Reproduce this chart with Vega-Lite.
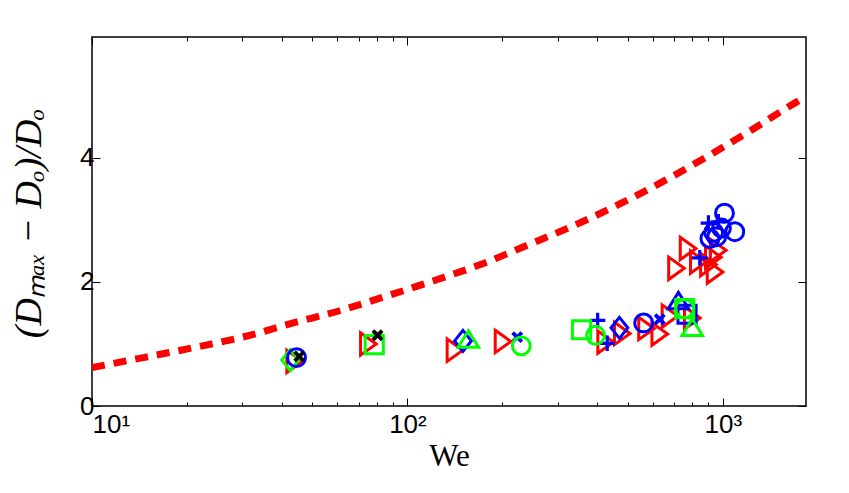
{
  "$schema": "https://vega.github.io/schema/vega-lite/v6.json",
  "width": 714,
  "height": 369,
  "autosize": {"type": "none"},
  "padding": {"left": 92, "top": 37, "right": 43, "bottom": 87},
  "background": "white",
  "config": {
    "view": {"stroke": "#000000", "strokeWidth": 1.5},
    "axis": {
      "domain": false,
      "grid": false,
      "tickColor": "#000000",
      "tickWidth": 1,
      "labelColor": "#000000",
      "labelFont": "Liberation Sans",
      "titleColor": "#000000",
      "titleFontWeight": "normal"
    }
  },
  "layer": [
    {
      "data": {
        "values": [
          {"We": 10, "ratio": 0.62},
          {"We": 14.7, "ratio": 0.785},
          {"We": 21.3, "ratio": 0.947},
          {"We": 30.8, "ratio": 1.125},
          {"We": 43.2, "ratio": 1.336},
          {"We": 61.4, "ratio": 1.541},
          {"We": 87.4, "ratio": 1.785},
          {"We": 124.4, "ratio": 2.039},
          {"We": 173.9, "ratio": 2.298},
          {"We": 243.4, "ratio": 2.606},
          {"We": 340.4, "ratio": 2.919},
          {"We": 476.4, "ratio": 3.27},
          {"We": 655.6, "ratio": 3.637},
          {"We": 902, "ratio": 4.037},
          {"We": 1241, "ratio": 4.459},
          {"We": 1710, "ratio": 4.9},
          {"We": 1835, "ratio": 4.99}
        ]
      },
      "mark": {
        "type": "line",
        "stroke": "#ff0000",
        "strokeWidth": 7,
        "strokeDash": [13, 9],
        "strokeCap": "butt",
        "interpolate": "monotone",
        "clip": true
      },
      "encoding": {
        "x": {
          "field": "We",
          "type": "quantitative",
          "scale": {"type": "log", "domain": [10, 1835], "nice": false},
          "axis": {
            "orient": "bottom",
            "values": [10, 20, 30, 40, 50, 60, 70, 80, 90, 100, 200, 300, 400, 500, 600, 700, 800, 900, 1000],
            "labelExpr": "datum.value === 10 ? '10¹' : datum.value === 100 ? '10²' : datum.value === 1000 ? '10³' : ''",
            "tickSize": {"condition": {"test": "datum.value === 10 || datum.value === 100 || datum.value === 1000", "value": -8}, "value": -4},
            "labelFontSize": 26,
            "labelPadding": 13,
            "labelOverlap": false,
            "title": "We",
            "titleFont": "Liberation Serif",
            "titleFontSize": 31,
            "titlePadding": 0
          }
        },
        "y": {
          "field": "ratio",
          "type": "quantitative",
          "scale": {"domain": [0, 5.95], "nice": false, "zero": true},
          "axis": {
            "orient": "left",
            "values": [0, 2, 4],
            "tickSize": -8,
            "labelFontSize": 26,
            "labelPadding": 6,
            "title": "(Dₘₐₓ − Dₒ)/Dₒ",
            "titleFont": "Liberation Serif",
            "titleFontStyle": "italic",
            "titleFontSize": 38,
            "titlePadding": 31,
            "titleY": 186
          }
        }
      }
    },
    {
      "data": {
        "values": [
          {"We": 43.9, "ratio": 0.72, "marker": "tri-right", "set": "red"},
          {"We": 75.2, "ratio": 1.0, "marker": "tri-right", "set": "red"},
          {"We": 141.5, "ratio": 0.9, "marker": "tri-right", "set": "red"},
          {"We": 201, "ratio": 1.04, "marker": "tri-right", "set": "red"},
          {"We": 425, "ratio": 1.03, "marker": "tri-right", "set": "red"},
          {"We": 480, "ratio": 1.17, "marker": "tri-right", "set": "red"},
          {"We": 573, "ratio": 1.25, "marker": "tri-right", "set": "red"},
          {"We": 631, "ratio": 1.16, "marker": "tri-right", "set": "red"},
          {"We": 680, "ratio": 1.45, "marker": "tri-right", "set": "red"},
          {"We": 800, "ratio": 1.42, "marker": "tri-right", "set": "red"},
          {"We": 713, "ratio": 2.22, "marker": "tri-right", "set": "red"},
          {"We": 776, "ratio": 2.54, "marker": "tri-right", "set": "red"},
          {"We": 836, "ratio": 2.32, "marker": "tri-right", "set": "red"},
          {"We": 900, "ratio": 2.28, "marker": "tri-right", "set": "red"},
          {"We": 933, "ratio": 2.4, "marker": "tri-right", "set": "red"},
          {"We": 945, "ratio": 2.16, "marker": "tri-right", "set": "red"},
          {"We": 967, "ratio": 2.51, "marker": "tri-right", "set": "red"},
          {"We": 42.5, "ratio": 0.74, "marker": "diamond", "set": "green"},
          {"We": 44.5, "ratio": 0.78, "marker": "circle", "set": "blue"},
          {"We": 561, "ratio": 1.34, "marker": "circle", "set": "blue"},
          {"We": 910, "ratio": 2.7, "marker": "circle", "set": "blue"},
          {"We": 956, "ratio": 2.73, "marker": "circle", "set": "blue"},
          {"We": 935, "ratio": 2.8, "marker": "circle", "set": "blue"},
          {"We": 990, "ratio": 2.87, "marker": "circle", "set": "blue"},
          {"We": 1012, "ratio": 3.11, "marker": "circle", "set": "blue"},
          {"We": 1091, "ratio": 2.81, "marker": "circle", "set": "blue"},
          {"We": 401, "ratio": 1.38, "marker": "plus", "set": "blue"},
          {"We": 430, "ratio": 1.01, "marker": "plus", "set": "blue"},
          {"We": 845, "ratio": 2.39, "marker": "plus", "set": "blue"},
          {"We": 900, "ratio": 2.95, "marker": "plus", "set": "blue"},
          {"We": 968, "ratio": 2.97, "marker": "plus", "set": "blue"},
          {"We": 222.9, "ratio": 1.11, "marker": "x", "set": "blue"},
          {"We": 631, "ratio": 1.4, "marker": "x", "set": "blue"},
          {"We": 150, "ratio": 1.05, "marker": "diamond", "set": "blue"},
          {"We": 470, "ratio": 1.26, "marker": "diamond", "set": "blue"},
          {"We": 723, "ratio": 1.7, "marker": "tri-up", "set": "blue"},
          {"We": 770, "ratio": 1.48, "marker": "square", "set": "blue"},
          {"We": 78.5, "ratio": 0.99, "marker": "square", "set": "green"},
          {"We": 356.5, "ratio": 1.23, "marker": "square", "set": "green"},
          {"We": 757, "ratio": 1.57, "marker": "square", "set": "green"},
          {"We": 156, "ratio": 1.08, "marker": "tri-up", "set": "green"},
          {"We": 800, "ratio": 1.27, "marker": "tri-up", "set": "green"},
          {"We": 229.6, "ratio": 0.97, "marker": "circle", "set": "green"},
          {"We": 395, "ratio": 1.14, "marker": "circle", "set": "green"},
          {"We": 757, "ratio": 1.57, "marker": "circle", "set": "green"},
          {"We": 45.4, "ratio": 0.8, "marker": "x", "set": "black"},
          {"We": 80.4, "ratio": 1.14, "marker": "x", "set": "black"}
        ]
      },
      "mark": {"type": "point", "filled": false, "opacity": 1, "clip": true},
      "encoding": {
        "x": {
          "field": "We",
          "type": "quantitative",
          "scale": {"type": "log", "domain": [10, 1835], "nice": false},
          "axis": {
            "orient": "top",
            "values": [10, 20, 30, 40, 50, 60, 70, 80, 90, 100, 200, 300, 400, 500, 600, 700, 800, 900, 1000],
            "labels": false,
            "tickSize": {"condition": {"test": "datum.value === 10 || datum.value === 100 || datum.value === 1000", "value": -8}, "value": -4},
            "title": null
          }
        },
        "y": {
          "field": "ratio",
          "type": "quantitative",
          "scale": {"domain": [0, 5.95], "nice": false, "zero": true},
          "axis": {"orient": "right", "values": [0, 2, 4], "labels": false, "tickSize": -8, "title": null}
        },
        "shape": {
          "field": "marker",
          "type": "nominal",
          "scale": {
            "domain": ["tri-right", "tri-up", "diamond", "plus", "x", "circle", "square"],
            "range": ["M-0.7,-1L0.7,0L-0.7,1Z", "M0,-0.8L1,0.8L-1,0.8Z", "M0,-1L0.8,0L0,1L-0.8,0Z", "M-1,0L1,0M0,-1L0,1", "M-1,-1L1,1M-1,1L1,-1", "circle", "square"]
          },
          "legend": null
        },
        "size": {
          "field": "marker",
          "type": "nominal",
          "scale": {
            "type": "ordinal",
            "domain": ["tri-right", "tri-up", "diamond", "plus", "x", "circle", "square"],
            "range": [500, 420, 440, 240, 85, 320, 330]
          },
          "legend": null
        },
        "strokeWidth": {
          "field": "marker",
          "type": "nominal",
          "scale": {
            "type": "ordinal",
            "domain": ["tri-right", "tri-up", "diamond", "plus", "x", "circle", "square"],
            "range": [3, 3, 3, 3.2, 3.8, 3, 3]
          },
          "legend": null
        },
        "stroke": {
          "field": "set",
          "type": "nominal",
          "scale": {"domain": ["red", "green", "blue", "black"], "range": ["#ff0000", "#00ff00", "#0000ff", "#000000"]},
          "legend": null
        }
      }
    }
  ],
  "resolve": {"axis": {"x": "independent", "y": "independent"}}
}
